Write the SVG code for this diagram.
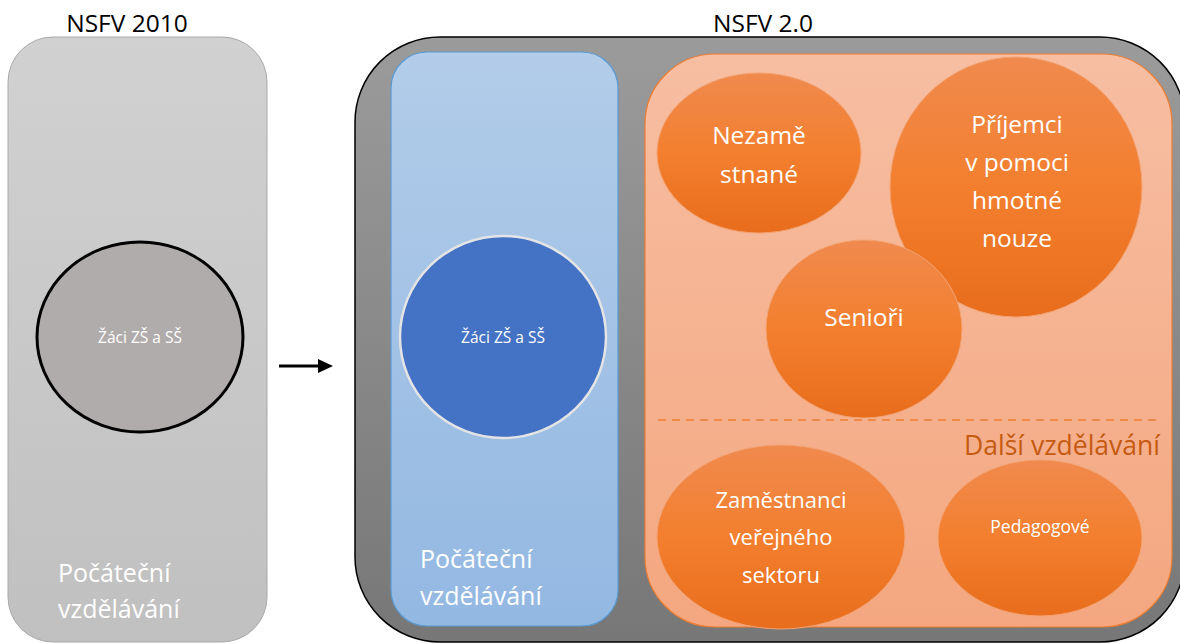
<svg xmlns="http://www.w3.org/2000/svg" width="1180" height="644" viewBox="0 0 1180 644">
<defs>
<linearGradient id="gGray" x1="0" y1="0" x2="0" y2="1"><stop offset="0" stop-color="#d1d1d1"/><stop offset="1" stop-color="#c0c0c0"/></linearGradient>
<linearGradient id="gDark" x1="0" y1="0" x2="0" y2="1"><stop offset="0" stop-color="#9b9b9b"/><stop offset="1" stop-color="#777777"/></linearGradient>
<linearGradient id="gBlue" x1="0" y1="0" x2="0" y2="1"><stop offset="0" stop-color="#b2cce9"/><stop offset="1" stop-color="#93b8e2"/></linearGradient>
<linearGradient id="gPeach" x1="0" y1="0" x2="0" y2="1"><stop offset="0" stop-color="#f7bea2"/><stop offset="1" stop-color="#f4a780"/></linearGradient>
<linearGradient id="gOr" x1="0" y1="0" x2="0" y2="1"><stop offset="0" stop-color="#f08a4e"/><stop offset="0.5" stop-color="#f37f2e"/><stop offset="1" stop-color="#e86d1c"/></linearGradient>
<marker id="ah" markerWidth="15" markerHeight="14" refX="2" refY="7" orient="auto" markerUnits="userSpaceOnUse" viewBox="0 0 15 14"><path d="M0,0 L15,7 L0,14 z" fill="#000"/></marker>
<style>
text{font-family:"Open Sans","Noto Sans",sans-serif;}
.title{font-size:24.5px;fill:#000;text-anchor:middle;}
.wl{font-size:25px;fill:#fff;}
.wc{font-size:24.5px;fill:#fff;text-anchor:middle;}
.wm{font-size:22px;fill:#fff;text-anchor:middle;}
.ws{font-size:15.5px;fill:#fff;text-anchor:middle;}
.orE{fill:url(#gOr);stroke:#f3a373;stroke-width:1;}
</style>
</defs>

<g id="nsfv2010">
<text class="title" x="127" y="32">NSFV 2010</text>
<rect x="8" y="37" width="259" height="605" rx="45" ry="45" fill="url(#gGray)" stroke="#a9a9a9" stroke-width="1"/>
<text class="wl" x="58" y="582">Počáteční</text>
<text class="wl" x="58" y="618">vzdělávání</text>
</g>
<g id="zaci2010">
<ellipse cx="140" cy="337" rx="103" ry="95" fill="#b0acab" stroke="#000" stroke-width="3"/>
<text class="ws" x="140" y="343">Žáci ZŠ a SŠ</text>
</g>

<g id="connectors">
<line x1="279" y1="366" x2="320" y2="366" stroke="#000" stroke-width="3" marker-end="url(#ah)"/>
</g>

<g id="nsfv20">
<text class="title" x="763" y="32">NSFV 2.0</text>
<rect x="355" y="37" width="830" height="605" rx="85" ry="85" fill="url(#gDark)" stroke="#000" stroke-width="1.5"/>
</g>
<g id="pocatecni">
<rect x="391" y="52" width="227" height="574" rx="36" ry="36" fill="url(#gBlue)" stroke="#5b9bd5" stroke-width="1.2"/>
<text class="wl" x="420" y="568">Počáteční</text>
<text class="wl" x="420" y="605">vzdělávání</text>
</g>
<g id="zaci20">
<ellipse cx="503" cy="337" rx="103" ry="101" fill="#4472c4" stroke="#e4e4e4" stroke-width="2.5"/>
<text class="ws" x="503" y="343">Žáci ZŠ a SŠ</text>
</g>
<g id="dalsi">
<rect x="645" y="54" width="527" height="573" rx="70" ry="70" fill="url(#gPeach)" stroke="#ed7d31" stroke-width="1.2"/>
<line x1="658" y1="420" x2="1160" y2="420" stroke="#ed7d31" stroke-width="1.5" stroke-dasharray="8,6"/>
<text x="1160" y="455" font-size="26.5" fill="#c55a11" text-anchor="end">Další vzdělávání</text>
</g>
<g id="nezamestnane">
<ellipse class="orE" cx="759" cy="153" rx="102" ry="80"/>
<text class="wc" x="759" y="144">Nezamě</text>
<text class="wc" x="759" y="183">stnané</text>
</g>
<g id="prijemci">
<ellipse class="orE" cx="1016" cy="187" rx="126" ry="130"/>
<text class="wc" x="1017" y="133">Příjemci</text>
<text class="wc" x="1017" y="171">v pomoci</text>
<text class="wc" x="1017" y="209">hmotné</text>
<text class="wc" x="1017" y="247">nouze</text>
</g>
<g id="seniori">
<ellipse class="orE" cx="864" cy="329" rx="98" ry="89"/>
<text class="wc" x="864" y="326">Senioři</text>
</g>
<g id="zamestnanci">
<ellipse class="orE" cx="781" cy="537" rx="124" ry="92"/>
<text class="wm" x="781" y="508">Zaměstnanci</text>
<text class="wm" x="781" y="545">veřejného</text>
<text class="wm" x="781" y="583">sektoru</text>
</g>
<g id="pedagogove">
<ellipse class="orE" cx="1040" cy="538" rx="102" ry="78"/>
<text x="1040" y="533" font-size="17.5" fill="#fff" text-anchor="middle">Pedagogové</text>
</g>
</svg>
